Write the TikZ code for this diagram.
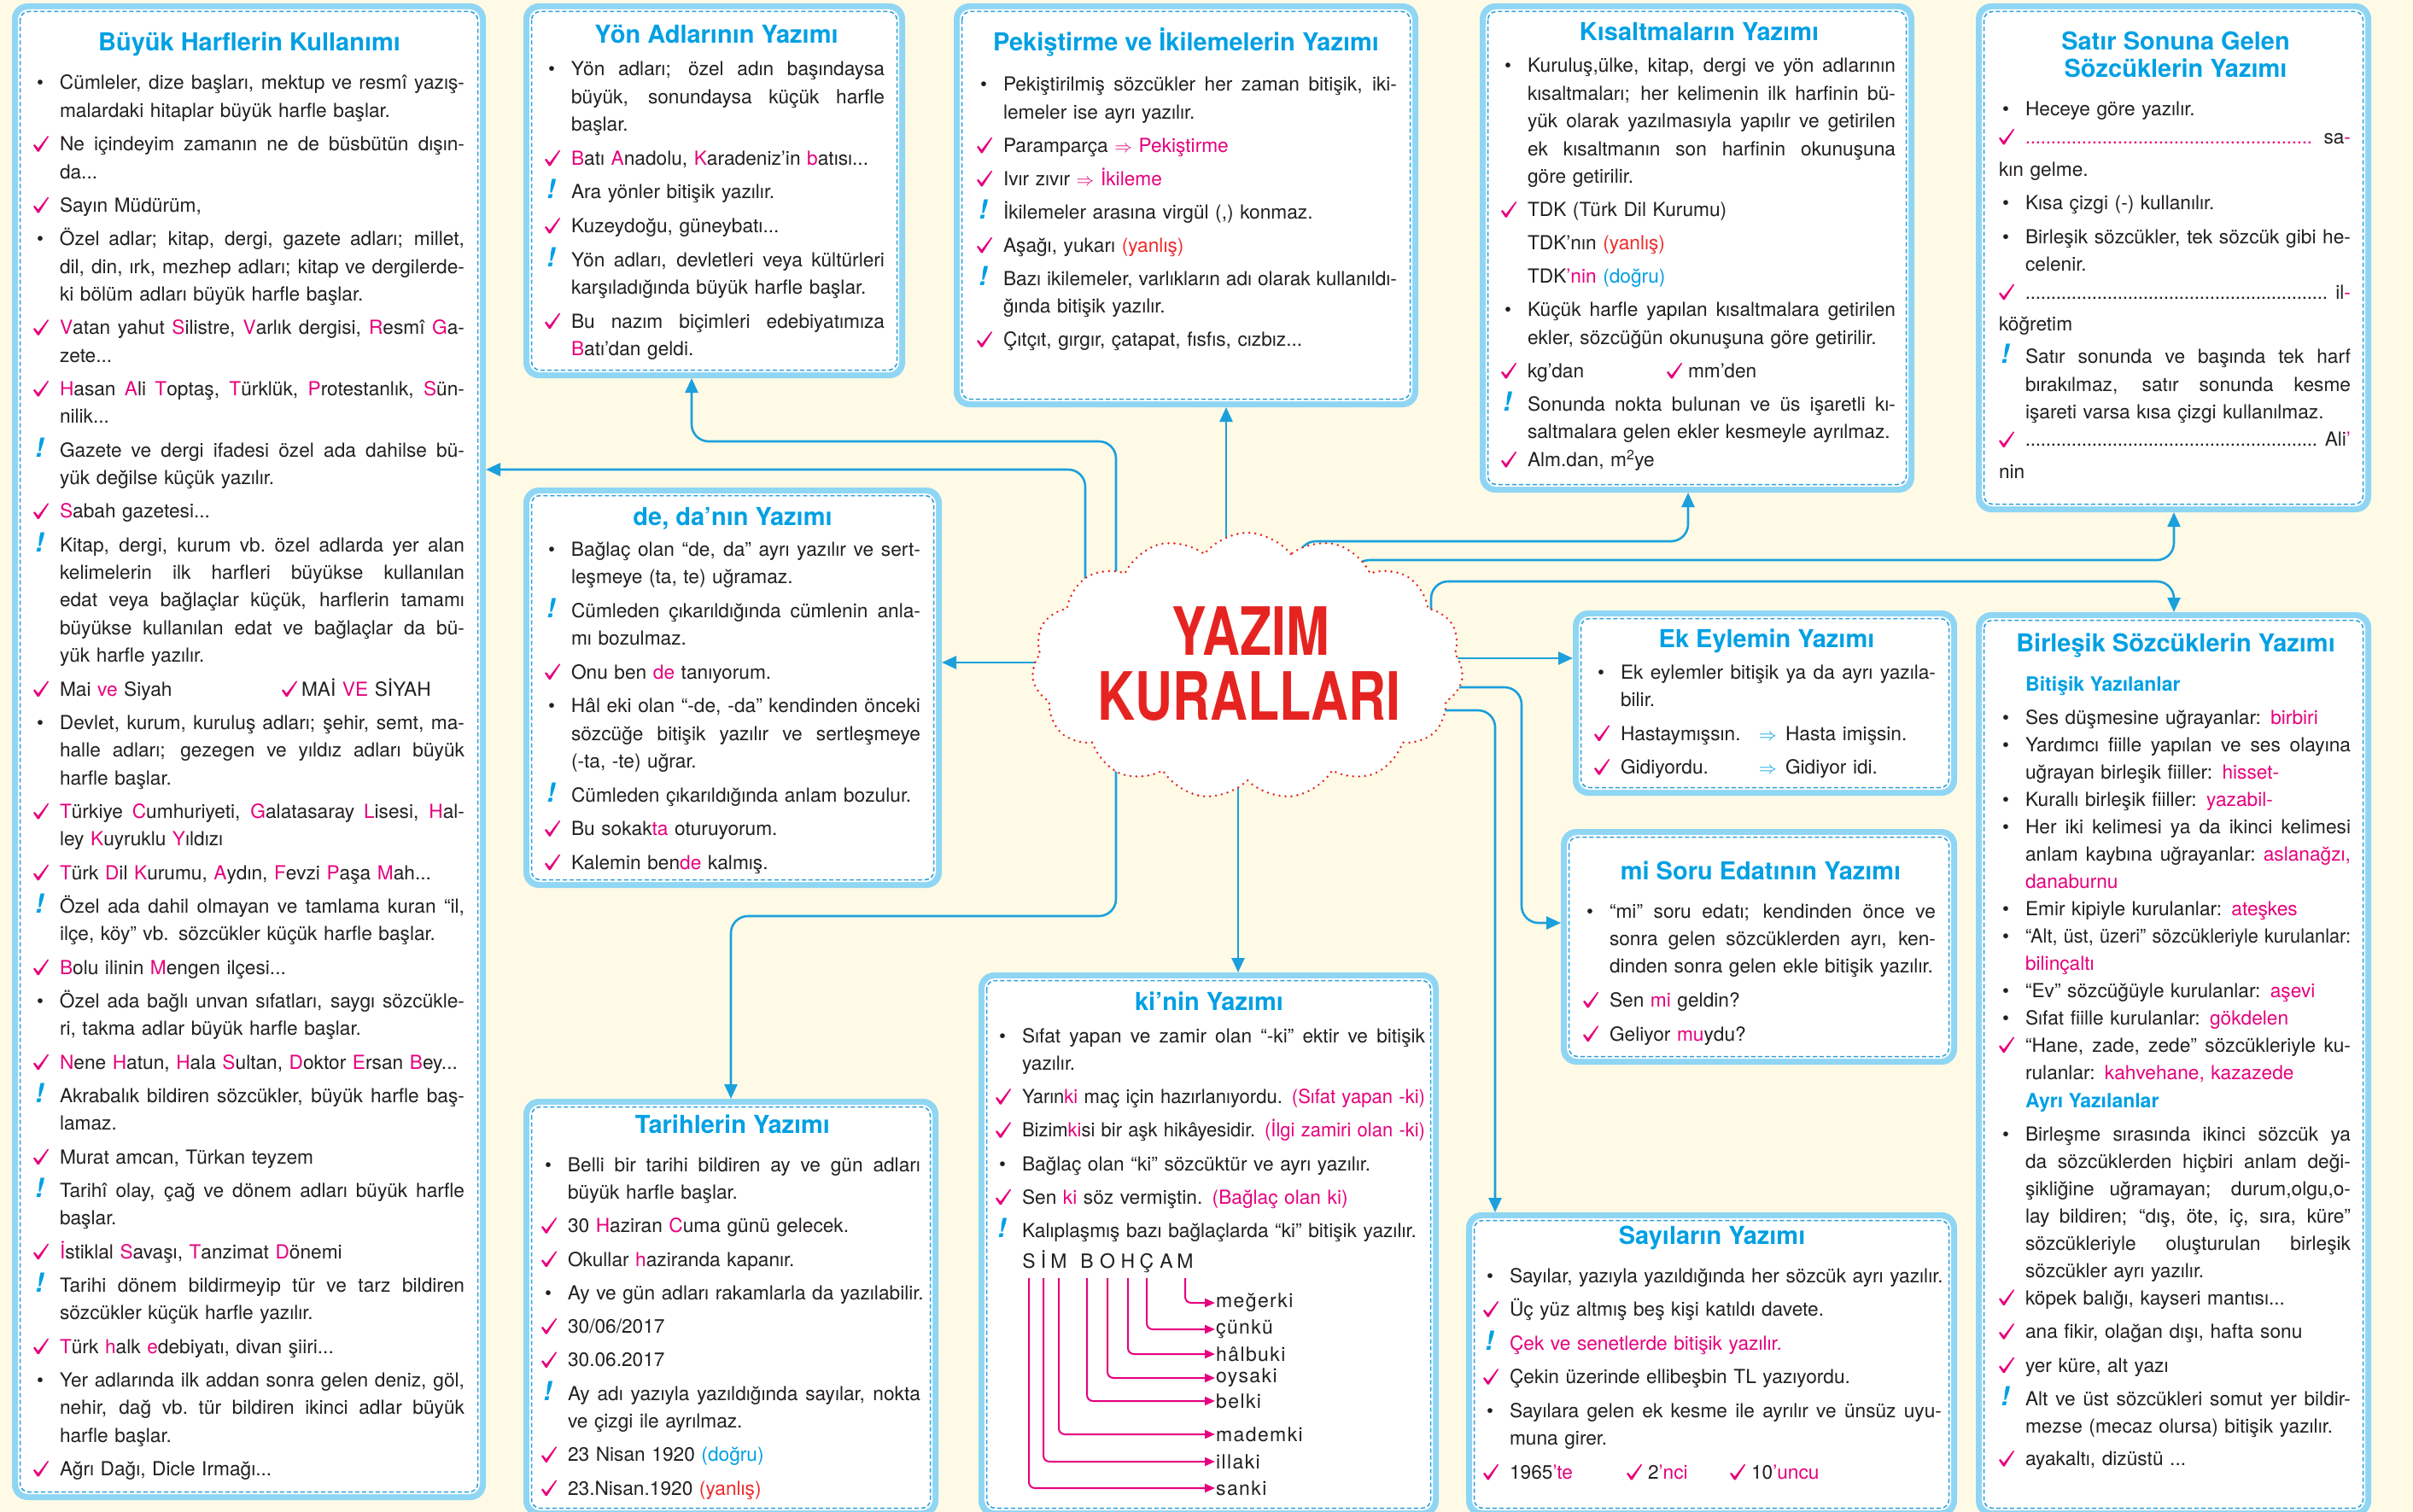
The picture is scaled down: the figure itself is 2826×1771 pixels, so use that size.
\documentclass[tikz,border=0pt]{standalone}
\usepackage{fontspec}
\setmainfont{TeX Gyre Heros}
\newfontfamily\brushf{TeX Gyre Heros}[FakeStretch=0.78]
\newfontfamily\spacedf{TeX Gyre Heros}[LetterSpace=6.0]
\usetikzlibrary{arrows.meta,shapes.symbols,fit,calc}

\definecolor{bgc}{HTML}{FFFAE6}
\definecolor{panelblue}{HTML}{8FD6F4}
\definecolor{dashblue}{HTML}{2A9FD8}
\definecolor{ttlblue}{HTML}{00A0E3}
\definecolor{linkblue}{HTML}{1BA0DD}
\definecolor{pinkc}{HTML}{E6007E}
\definecolor{redc}{HTML}{EE2A2A}
\definecolor{txt}{HTML}{231F20}
\definecolor{cloudred}{HTML}{E52421}

\newcommand\pk[1]{\textcolor{pinkc}{#1}}
\newcommand\rd[1]{\textcolor{redc}{#1}}
\newcommand\cy[1]{\textcolor{ttlblue}{#1}}
\newcommand\mkck{\tikz[baseline=0pt,x=1pt,y=1pt]\fill[pinkc] (0.6,6.4) -- (2.4,7.6) -- (6.3,3.0) -- (17.5,17.6) -- (18.7,16.8) -- (7.3,-0.9) -- (5.5,-0.9) -- cycle;}
\newcommand\mkbu{\hspace*{4pt}\textbullet}
\newcommand\mkex{\hspace*{2pt}{\fontsize{31}{31}\selectfont\bfseries\itshape\textcolor{ttlblue}{!}}}

\newlength\mkw \setlength\mkw{31pt}
\newlength\jw
\newsavebox\fitbox
\def\gap{7pt}
\newcommand\itm[3][\gap]{\hangindent\mkw\hangafter1\noindent\makebox[\mkw][l]{\rule{0pt}{24pt}#2}#3\par\vspace{#1}}
\newcommand\fitline[1]{\sbox\fitbox{#1}\ifdim\wd\fitbox>\dimexpr\jw+6pt\relax\resizebox{\jw}{\height}{\usebox\fitbox}\else\makebox[\jw][s]{\spaceskip=\fontdimen2\font plus 1fil minus \fontdimen4\font\relax\xspaceskip=\spaceskip #1}\fi}
\newcommand\jus[1]{\fitline{#1}\newline}
\newcommand\jusl[1]{\fitline{#1}}
\newcommand\dotsP{{\color{pinkc}\leaders\hbox to 6pt{\hss.\hss}\hfill}}
\newcommand\dotsK{\leaders\hbox to 6pt{\hss.\hss}\hfill}

\newcommand\panel[5]{%
 \fill[panelblue, rounded corners=18pt] (#2,#3) rectangle (#4,#5);
 \fill[white, rounded corners=12pt] (#2+7,#3+7) rectangle (#4-7,#5-7);
 \draw[dashblue, line width=1.5pt, dash pattern=on 5pt off 3pt, rounded corners=10pt] (#2+9.5,#3+9.5) rectangle (#4-9.5,#5-9.5);
 \node[inner sep=0pt, outer sep=0pt, fit={(#2,#3) (#4,#5)}] (#1) {};
}
\newcommand\bodyat[4]{\node[body] at (#1,#2) {\setlength\parskip{0pt}\setlength\jw{#3pt}#4};}

\begin{document}
\begin{tikzpicture}[x=1pt,y=-1pt,
 body/.style={anchor=north west, inner sep=0pt, outer sep=0pt, text width=720pt, text=txt, font=\fontsize{22.7}{32.4}\selectfont},
 ttl/.style={anchor=base, inner sep=0pt, text=ttlblue, font=\fontsize{29}{32}\selectfont\bfseries},
 sub/.style={anchor=base west, inner sep=0pt, text=ttlblue, font=\fontsize{23}{26}\selectfont\bfseries},
 conn/.style={draw=linkblue, line width=2.6pt, rounded corners=20pt, -{Triangle[length=17pt,width=15pt]}},
 tree/.style={draw=pinkc, line width=2pt, rounded corners=7pt, shorten >=1pt, -{Triangle[length=12pt,width=10pt]}},
 kl/.style={anchor=base, inner sep=1.5pt, text=txt, font=\fontsize{23}{23}\selectfont},
 kw/.style={anchor=west, inner sep=0pt, text=txt, font=\spacedf\fontsize{23}{23}\selectfont}
]
\useasboundingbox (0,0) rectangle (2826,1771);
\clip (0,0) rectangle (2826,1771);
\fill[bgc] (0,0) rectangle (2826,1771);

% panels
\panel{buyuk}{14}{4}{569}{1757}
\panel{yon}{613}{4}{1060}{443}
\panel{deda}{613}{571}{1103}{1040}
\panel{pek}{1117}{4}{1661}{477}
\panel{kis}{1733}{4}{2242}{577}
\panel{satir}{2314}{4}{2777}{600}
\panel{ekeylem}{1842}{715}{2292}{932}
\panel{misoru}{1828}{971}{2292}{1247}
\panel{birlesik}{2314}{717}{2777}{1776}
\panel{ki}{1146}{1139}{1685}{1776}
\panel{tarih}{613}{1287}{1099}{1776}
\panel{sayilar}{1717}{1420}{2292}{1776}

% connector coordinates
\coordinate (cA) at (1271,720);
\coordinate (cB) at (1307,720);
\coordinate (cC) at (1436,700);
\coordinate (cD) at (1521,700);
\coordinate (cE) at (1584,700);
\coordinate (cF) at (1676,740);
\coordinate (cG) at (1650,771);
\coordinate (cH) at (1650,805);
\coordinate (cI) at (1650,832);
\coordinate (cJ) at (1450,850);
\coordinate (cK) at (1307,850);
\coordinate (cL) at (1300,776);
\coordinate (lk) at (700,550);
\coordinate (yk) at (810,517);
\coordinate (kk) at (1977,634);
\coordinate (sk) at (2546,656);
\coordinate (bk) at (2546,681);
\coordinate (mk) at (1782,1081);
\coordinate (sy) at (1751,1000);
\coordinate (tk) at (856,1073);

\draw[conn] (cA) |- (buyuk.east |- lk);
\draw[conn] (cB) |- (yk) -- (yk |- yon.south);
\draw[conn] (cC) -- (cC |- pek.south);
\draw[conn] (cD) |- (kk) -- (kk |- kis.south);
\draw[conn] (cE) |- (sk) -- (sk |- satir.south);
\draw[conn] (cF) |- (bk) -- (bk |- birlesik.north);
\draw[conn] (cG) -- (cG -| ekeylem.west);
\draw[conn] (cH) -| (mk) -- (mk -| misoru.west);
\draw[conn] (cI) -| (sy |- sayilar.north);
\draw[conn] (cJ) -- (cJ |- ki.north);
\draw[conn] (cK) |- (tk) -- (tk |- tarih.north);
\draw[conn] (cL) -- (cL -| deda.east);

% cloud
\node[cloud, cloud puffs=15, cloud puff arc=105, cloud ignores aspect, minimum width=505pt, minimum height=312pt, fill=white, draw=cloudred, line width=2.8pt, dash pattern=on 0pt off 7pt, line cap=round] (cloud) at (1461,780) {};
\node[text=cloudred, font=\brushf\bfseries\fontsize{78}{78}\selectfont, inner sep=0pt] (yazim) at (1465,739) {YAZIM};
\node[text=cloudred, font=\brushf\bfseries\fontsize{78}{78}\selectfont, inner sep=0pt] (kurallari) at (1463,816) {KURALLARI};

% titles
\node[ttl] (t1) at (292,60) {Büyük Harflerin Kullanımı};
\node[ttl] (t2) at (839,51) {Yön Adlarının Yazımı};
\node[ttl] (t3) at (858,615) {de, da’nın Yazımı};
\node[ttl] (t4) at (1389,60) {Pekiştirme ve İkilemelerin Yazımı};
\node[ttl] (t5) at (1990,48) {Kısaltmaların Yazımı};
\node[ttl] (t6a) at (2548,59) {Satır Sonuna Gelen};
\node[ttl] (t6b) at (2548,91) {Sözcüklerin Yazımı};
\node[ttl] (t7) at (2069,758) {Ek Eylemin Yazımı};
\node[ttl] (t8) at (2062,1030) {mi Soru Edatının Yazımı};
\node[ttl] (t9) at (2548,763) {Birleşik Sözcüklerin Yazımı};
\node[ttl] (t10) at (1416,1183) {ki’nin Yazımı};
\node[ttl] (t11) at (858,1327) {Tarihlerin Yazımı};
\node[ttl] (t12) at (2005,1457) {Sayıların Yazımı};
\node[sub] (s9a) at (2372,809) {Bitişik Yazılanlar};
\node[sub] (s9b) at (2372,1297) {Ayrı Yazılanlar};

% Box 1
\bodyat{39}{81}{474}{\def\gap{6.9pt}%
\itm{\mkbu}{\jus{Cümleler, dize başları, mektup ve resmî yazış-}malardaki hitaplar büyük harfle başlar.}
\itm{\mkck}{\jus{Ne içindeyim zamanın ne de büsbütün dışın-}da...}
\itm{\mkck}{Sayın Müdürüm,}
\itm{\mkbu}{\jus{Özel adlar; kitap, dergi, gazete adları; millet,}\jus{dil, din, ırk, mezhep adları; kitap ve dergilerde-}ki bölüm adları büyük harfle başlar.}
\itm{\mkck}{\jus{\pk{V}atan yahut \pk{S}ilistre, \pk{V}arlık dergisi, \pk{R}esmî \pk{G}a-}zete...}
\itm{\mkck}{\jus{\pk{H}asan \pk{A}li \pk{T}optaş, \pk{T}ürklük, \pk{P}rotestanlık, \pk{S}ün-}nilik...}
\itm{\mkex}{\jus{Gazete ve dergi ifadesi özel ada dahilse bü-}yük değilse küçük yazılır.}
\itm{\mkck}{\pk{S}abah gazetesi...}
\itm{\mkex}{\jus{Kitap, dergi, kurum vb. özel adlarda yer alan}\jus{kelimelerin ilk harfleri büyükse kullanılan}\jus{edat veya bağlaçlar küçük, harflerin tamamı}\jus{büyükse kullanılan edat ve bağlaçlar da bü-}yük harfle yazılır.}
\itm{\mkck}{\makebox[260pt][l]{Mai \pk{ve} Siyah}\makebox[23pt][l]{\mkck}MAİ \pk{VE} SİYAH}
\itm{\mkbu}{\jus{Devlet, kurum, kuruluş adları; şehir, semt, ma-}\jus{halle adları; gezegen ve yıldız adları büyük}harfle başlar.}
\itm{\mkck}{\jus{\pk{T}ürkiye \pk{C}umhuriyeti, \pk{G}alatasaray \pk{L}isesi, \pk{H}al-}ley \pk{K}uyruklu \pk{Y}ıldızı}
\itm{\mkck}{\pk{T}ürk \pk{D}il \pk{K}urumu, \pk{A}ydın, \pk{F}evzi \pk{P}aşa \pk{M}ah...}
\itm{\mkex}{\jus{Özel ada dahil olmayan ve tamlama kuran “il,}ilçe, köy” vb. sözcükler küçük harfle başlar.}
\itm{\mkck}{\pk{B}olu ilinin \pk{M}engen ilçesi...}
\itm{\mkbu}{\jus{Özel ada bağlı unvan sıfatları, saygı sözcükle-}ri, takma adlar büyük harfle başlar.}
\itm{\mkck}{\pk{N}ene \pk{H}atun, \pk{H}ala \pk{S}ultan, \pk{D}oktor \pk{E}rsan \pk{B}ey...}
\itm{\mkex}{\jus{Akrabalık bildiren sözcükler, büyük harfle baş-}lamaz.}
\itm{\mkck}{Murat amcan, Türkan teyzem}
\itm{\mkex}{\jus{Tarihî olay, çağ ve dönem adları büyük harfle}başlar.}
\itm{\mkck}{\pk{İ}stiklal \pk{S}avaşı, \pk{T}anzimat \pk{D}önemi}
\itm{\mkex}{\jus{Tarihi dönem bildirmeyip tür ve tarz bildiren}sözcükler küçük harfle yazılır.}
\itm{\mkck}{\pk{T}ürk \pk{h}alk \pk{e}debiyatı, divan şiiri...}
\itm{\mkbu}{\jus{Yer adlarında ilk addan sonra gelen deniz, göl,}\jus{nehir, dağ vb. tür bildiren ikinci adlar büyük}harfle başlar.}
\itm{\mkck}{Ağrı Dağı, Dicle Irmağı...}}

% Box 2
\bodyat{638}{65}{367}{\def\gap{7.2pt}%
\itm{\mkbu}{\jus{Yön adları; özel adın başındaysa}\jus{büyük, sonundaysa küçük harfle}başlar.}
\itm{\mkck}{\pk{B}atı \pk{A}nadolu, \pk{K}aradeniz’in \pk{b}atısı...}
\itm{\mkex}{Ara yönler bitişik yazılır.}
\itm{\mkck}{Kuzeydoğu, güneybatı...}
\itm{\mkex}{\jus{Yön adları, devletleri veya kültürleri}karşıladığında büyük harfle başlar.}
\itm{\mkck}{\jus{Bu nazım biçimleri edebiyatımıza}\pk{B}atı’dan geldi.}}

% Box 3
\bodyat{638}{627}{409}{\def\gap{7.2pt}%
\itm{\mkbu}{\jus{Bağlaç olan “de, da” ayrı yazılır ve sert-}leşmeye (ta, te) uğramaz.}
\itm{\mkex}{\jus{Cümleden çıkarıldığında cümlenin anla-}mı bozulmaz.}
\itm{\mkck}{Onu ben \pk{de} tanıyorum.}
\itm{\mkbu}{\jus{Hâl eki olan “-de, -da” kendinden önceki}\jus{sözcüğe bitişik yazılır ve sertleşmeye}(-ta, -te) uğrar.}
\itm{\mkex}{Cümleden çıkarıldığında anlam bozulur.}
\itm{\mkck}{Bu sokak\pk{ta} oturuyorum.}
\itm{\mkck}{Kalemin ben\pk{de} kalmış.}}

% Box 4
\bodyat{1144}{83}{461}{\def\gap{6.6pt}%
\itm{\mkbu}{\jus{Pekiştirilmiş sözcükler her zaman bitişik, iki-}lemeler ise ayrı yazılır.}
\itm{\mkck}{Paramparça \pk{$\Rightarrow$ Pekiştirme}}
\itm{\mkck}{Ivır zıvır \pk{$\Rightarrow$ İkileme}}
\itm{\mkex}{İkilemeler arasına virgül (,) konmaz.}
\itm{\mkck}{Aşağı, yukarı \rd{(yanlış)}}
\itm{\mkex}{\jus{Bazı ikilemeler, varlıkların adı olarak kullanıldı-}ğında bitişik yazılır.}
\itm{\mkck}{Çıtçıt, gırgır, çatapat, fısfıs, cızbız...}}

% Box 5
\bodyat{1758}{61}{431}{\def\gap{6.7pt}%
\itm{\mkbu}{\jus{Kuruluş,ülke, kitap, dergi ve yön adlarının}\jus{kısaltmaları; her kelimenin ilk harfinin bü-}\jus{yük olarak yazılmasıyla yapılır ve getirilen}\jus{ek kısaltmanın son harfinin okunuşuna}göre getirilir.}
\itm{\mkck}{TDK (Türk Dil Kurumu)}
\itm{}{TDK’nın \rd{(yanlış)}}
\itm{}{TDK\pk{’nin} \cy{(doğru)}}
\itm{\mkbu}{\jus{Küçük harfle yapılan kısaltmalara getirilen}ekler, sözcüğün okunuşuna göre getirilir.}
\itm{\mkck}{\makebox[163pt][l]{kg’dan}\makebox[25pt][l]{\mkck}mm’den}
\itm[0pt]{\mkex}{\jus{Sonunda nokta bulunan ve üs işaretli kı-}saltmalara gelen ekler kesmeyle ayrılmaz.}
\itm{\mkck}{Alm.dan, m\textsuperscript{2}ye}}

% Box 6
\bodyat{2341}{112}{381}{\def\gap{7.2pt}%
\itm[0pt]{\mkbu}{Heceye göre yazılır.}
\itm{\mkck}{\makebox[\jw][s]{\dotsP\ sa\pk{-}}\\[5.4pt]kın gelme.}
\itm{\mkbu}{Kısa çizgi (-) kullanılır.}
\itm[0pt]{\mkbu}{\jus{Birleşik sözcükler, tek sözcük gibi he-}celenir.}
\itm[5.4pt]{\mkck}{\makebox[\jw][s]{\dotsK\ il\pk{-}}\\[5.4pt]köğretim}
\itm[0pt]{\mkex}{\jus{Satır sonunda ve başında tek harf}\jus{bırakılmaz, satır sonunda kesme}işareti varsa kısa çizgi kullanılmaz.}
\itm{\mkck}{\makebox[\jw][s]{\dotsK\ Ali\pk{’}}\\[5.4pt]nin}}

% Box 7
\bodyat{1867}{771}{369}{\def\gap{7.2pt}%
\itm{\mkbu}{\jus{Ek eylemler bitişik ya da ayrı yazıla-}bilir.}
\itm{\mkck}{\makebox[162pt][l]{Hastaymışsın.}\makebox[31pt][l]{\cy{$\Rightarrow$}}Hasta imişsin.}
\itm{\mkck}{\makebox[162pt][l]{Gidiyordu.}\makebox[31pt][l]{\cy{$\Rightarrow$}}Gidiyor idi.}}

% Box 8
\bodyat{1854}{1051}{382}{\def\gap{7.2pt}%
\itm{\mkbu}{\jus{“mi” soru edatı; kendinden önce ve}\jus{sonra gelen sözcüklerden ayrı, ken-}dinden sonra gelen ekle bitişik yazılır.}
\itm{\mkck}{Sen \pk{mi} geldin?}
\itm{\mkck}{Geliyor \pk{mu}ydu?}}

% Box 9
\bodyat{2341}{824}{381}{\fontsize{22.7}{32}\selectfont\def\gap{0pt}%
\itm{\mkbu}{Ses düşmesine uğrayanlar: \pk{birbiri}}
\itm{\mkbu}{\jus{Yardımcı fiille yapılan ve ses olayına}uğrayan birleşik fiiller: \pk{hisset-}}
\itm{\mkbu}{Kurallı birleşik fiiller: \pk{yazabil-}}
\itm{\mkbu}{\jus{Her iki kelimesi ya da ikinci kelimesi}\jus{anlam kaybına uğrayanlar: \pk{aslanağzı,}}\pk{danaburnu}}
\itm{\mkbu}{Emir kipiyle kurulanlar: \pk{ateşkes}}
\itm{\mkbu}{\jus{“Alt, üst, üzeri” sözcükleriyle kurulanlar:}\pk{bilinçaltı}}
\itm{\mkbu}{“Ev” sözcüğüyle kurulanlar: \pk{aşevi}}
\itm{\mkbu}{Sıfat fiille kurulanlar: \pk{gökdelen}}
\itm{\mkck}{\jus{“Hane, zade, zede” sözcükleriyle ku-}rulanlar: \pk{kahvehane, kazazede}}}
\bodyat{2341}{1312}{381}{\fontsize{22.7}{32}\selectfont\def\gap{7.6pt}%
\itm[0pt]{\mkbu}{\jus{Birleşme sırasında ikinci sözcük ya}\jus{da sözcüklerden hiçbiri anlam deği-}\jus{şikliğine uğramayan; durum,olgu,o-}\jus{lay bildiren; “dış, öte, iç, sıra, küre”}\jus{sözcükleriyle oluşturulan birleşik}sözcükler ayrı yazılır.}
\itm{\mkck}{köpek balığı, kayseri mantısı...}
\itm{\mkck}{ana fikir, olağan dışı, hafta sonu}
\itm{\mkck}{yer küre, alt yazı}
\itm[5.8pt]{\mkex}{\jus{Alt ve üst sözcükleri somut yer bildir-}mezse (mecaz olursa) bitişik yazılır.}
\itm{\mkck}{ayakaltı, dizüstü ...}}

% Box 10
\bodyat{1166}{1197}{472}{\def\gap{6.8pt}%
\itm{\mkbu}{\jus{Sıfat yapan ve zamir olan “-ki” ektir ve bitişik}yazılır.}
\itm{\mkck}{\jusl{Yarın\pk{ki} maç için hazırlanıyordu. \pk{(Sıfat yapan -ki)}}}
\itm{\mkck}{\jusl{Bizim\pk{ki}si bir aşk hikâyesidir. \pk{(İlgi zamiri olan -ki)}}}
\itm{\mkbu}{Bağlaç olan “ki” sözcüktür ve ayrı yazılır.}
\itm{\mkck}{Sen \pk{ki} söz vermiştin. \pk{(Bağlaç olan ki)}}
\itm{\mkex}{Kalıplaşmış bazı bağlaçlarda “ki” bitişik yazılır.}}

% ki tree
\node[kl] (ls) at (1205,1485) {S};
\node[kl] (li) at (1222,1485) {İ};
\node[kl] (lm) at (1240,1485) {M};
\node[kl] (lb) at (1273,1485) {B};
\node[kl] (lo) at (1297,1485) {O};
\node[kl] (lh) at (1321,1485) {H};
\node[kl] (lc) at (1343,1485) {Ç};
\node[kl] (la) at (1366,1485) {A};
\node[kl] (lmm) at (1388,1485) {M};
\node[kw] (w1) at (1424,1526) {meğerki};
\node[kw] (w2) at (1424,1557) {çünkü};
\node[kw] (w3) at (1424,1586) {hâlbuki};
\node[kw] (w4) at (1424,1614) {oysaki};
\node[kw] (w5) at (1424,1641) {belki};
\node[kw] (w6) at (1424,1680) {mademki};
\node[kw] (w7) at (1424,1712) {illaki};
\node[kw] (w8) at (1424,1743) {sanki};
\coordinate (tt) at (0,1497);
\draw[tree] (lmm |- tt) |- (w1.west);
\draw[tree] (lc |- tt) |- (w2.west);
\draw[tree] (lh |- tt) |- (w3.west);
\draw[tree] (lo |- tt) |- (w4.west);
\draw[tree] (lb |- tt) |- (w5.west);
\draw[tree] (lm |- tt) |- (w6.west);
\draw[tree] (li |- tt) |- (w7.west);
\draw[tree] (ls |- tt) |- (w8.west);

% Box 11
\bodyat{634}{1348}{413}{\def\gap{6.9pt}%
\itm{\mkbu}{\jus{Belli bir tarihi bildiren ay ve gün adları}büyük harfle başlar.}
\itm{\mkck}{30 \pk{H}aziran \pk{C}uma günü gelecek.}
\itm{\mkck}{Okullar \pk{h}aziranda kapanır.}
\itm{\mkbu}{Ay ve gün adları rakamlarla da yazılabilir.}
\itm{\mkck}{30/06/2017}
\itm{\mkck}{30.06.2017}
\itm{\mkex}{\jus{Ay adı yazıyla yazıldığında sayılar, nokta}ve çizgi ile ayrılmaz.}
\itm{\mkck}{23 Nisan 1920 \cy{(doğru)}}
\itm{\mkck}{23.Nisan.1920 \rd{(yanlış)}}}

% Box 12
\bodyat{1737}{1478}{506}{\def\gap{7.2pt}%
\itm{\mkbu}{Sayılar, yazıyla yazıldığında her sözcük ayrı yazılır.}
\itm{\mkck}{Üç yüz altmış beş kişi katıldı davete.}
\itm{\mkex}{\pk{Çek ve senetlerde bitişik yazılır.}}
\itm{\mkck}{Çekin üzerinde ellibeşbin TL yazıyordu.}
\itm{\mkbu}{\jus{Sayılara gelen ek kesme ile ayrılır ve ünsüz uyu-}muna girer.}
\itm{\mkck}{\makebox[137pt][l]{1965\pk{’te}}\makebox[25pt][l]{\mkck}\makebox[96pt][l]{2\pk{’nci}}\makebox[25pt][l]{\mkck}10\pk{’uncu}}}

\end{tikzpicture}
\end{document}
